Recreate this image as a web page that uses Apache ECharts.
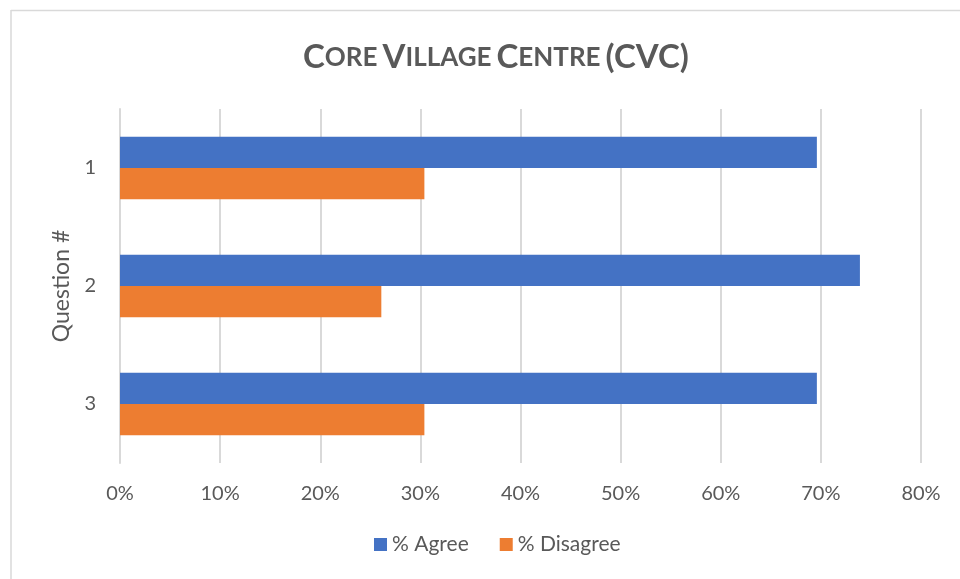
<!DOCTYPE html>
<html>
<head>
<meta charset="utf-8">
<script src="https://cdn.jsdelivr.net/npm/echarts@6/dist/echarts.min.js"></script>
<style>
  html, body { margin: 0; padding: 0; background: #fff; }
  #main { width: 960px; height: 579px; }
</style>
</head>
<body>
<div id="main"></div>
<script>
// data
var questions = ['1', '2', '3'];
var agree = [69.6, 73.9, 69.6];
var disagree = [30.4, 26.1, 30.4];
var xTicks = [0, 10, 20, 30, 40, 50, 60, 70, 80];

var myChart = echarts.init(document.getElementById('main'));
var font = 'Lato, "Open Sans", sans-serif';
var grey = '#595959';

var option = {
  backgroundColor: '#fff',
  animation: false,
  title: {
    // small caps by hand
    text: '{a|C}{b|ORE} {a|V}{b|ILLAGE} {a|C}{b|ENTRE} {a|(CVC)}',
    left: 298,
    top: 36,
    textStyle: {
      rich: {
        a: {fontFamily: font, fontWeight: 'bold', fontSize: 33, color: grey},
        b: {fontFamily: font, fontWeight: 'bold', fontSize: 26, color: grey}
      }
    }
  },
  legend: {
    bottom: 19,
    left: 369,
    itemWidth: 13,
    itemHeight: 13,
    itemGap: 31,
    icon: 'rect',
    textStyle: {fontFamily: font, fontSize: 21, color: grey},
    data: ['% Agree', '% Disagree']
  },
  grid: {left: 120, right: 39, top: 109, bottom: 116},
  xAxis: {
    type: 'value',
    min: 0,
    max: 80,
    interval: 10,
    axisLine: {show: false},
    axisTick: {show: false},
    axisLabel: {
      margin: 21,
      fontFamily: font,
      fontSize: 20,
      color: grey,
      formatter: function (v) { return xTicks.indexOf(v) >= 0 ? v + '%' : ''; }
    },
    splitLine: {lineStyle: {color: '#d9d9d9', width: 2}}
  },
  yAxis: {
    type: 'category',
    inverse: true,
    data: questions,
    name: 'Question #',
    nameLocation: 'middle',
    nameGap: 46,
    nameRotate: 90,
    nameTextStyle: {fontFamily: font, fontSize: 23, color: grey},
    axisLine: {show: true, lineStyle: {color: '#d9d9d9', width: 2}},
    axisTick: {show: false},
    axisLabel: {margin: 24, fontFamily: font, fontSize: 20, color: grey}
  },
  series: [
    {
      name: '% Agree',
      type: 'bar',
      data: agree,
      barGap: '0%',
      barCategoryGap: '47%',
      itemStyle: {color: '#4472c4'}
    },
    {
      name: '% Disagree',
      type: 'bar',
      data: disagree,
      itemStyle: {color: '#ed7d31'}
    }
  ],
  graphic: [
    {type: 'line', shape: {x1: 11, y1: 10.5, x2: 960, y2: 10.5}, style: {stroke: '#d9d9d9', lineWidth: 1.5}},
    {type: 'line', shape: {x1: 11, y1: 10, x2: 11, y2: 579}, style: {stroke: '#d9d9d9', lineWidth: 1.5}}
  ]
};

myChart.setOption(option);
</script>
</body>
</html>
